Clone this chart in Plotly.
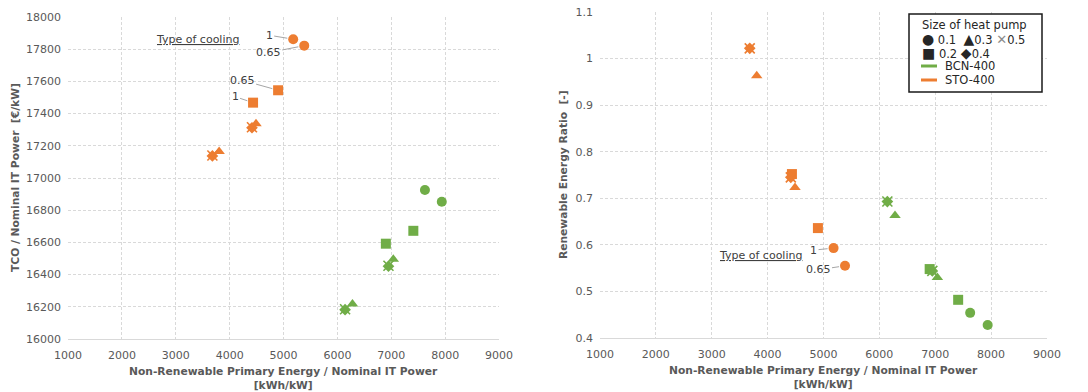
import plotly.graph_objects as go

W, H = 1088, 392
ORANGE = "#ED7D31"
GREEN = "#70AD47"
GRID = "#d9d9d9"
TXT = "#595959"
FONT = "DejaVu Sans"

sizes = ["0.1", "0.2", "0.3", "0.4", "0.5"]
symbols = ["circle", "square", "triangle-up", "diamond", "x-thin"]
cooling = ["1", "0.65"]

# STO-400 (per heat-pump size, cooling type [1, 0.65])
sto_nrpe = {"0.1": [5180, 5385], "0.2": [4435, 4900], "0.3": [3805, 4490],
            "0.4": [3680, 4415], "0.5": [3680, 4415]}
sto_tco = {"0.1": [17862, 17822], "0.2": [17468, 17545], "0.3": [17165, 17337],
           "0.4": [17137, 17312], "0.5": [17140, 17315]}
sto_rer = {"0.1": [0.593, 0.555], "0.2": [0.752, 0.636], "0.3": [0.963, 0.723],
           "0.4": [1.022, 0.745], "0.5": [1.022, 0.745]}
# BCN-400
bcn_nrpe = {"0.1": [7625, 7938], "0.2": [6900, 7410], "0.3": [6280, 7038],
            "0.4": [6143, 6948], "0.5": [6143, 6948]}
bcn_tco = {"0.1": [16925, 16852], "0.2": [16592, 16672], "0.3": [16218, 16495],
           "0.4": [16182, 16452], "0.5": [16185, 16455]}
bcn_rer = {"0.1": [0.454, 0.428], "0.2": [0.548, 0.482], "0.3": [0.663, 0.530],
           "0.4": [0.693, 0.544], "0.5": [0.693, 0.544]}

x_ticks = [1000, 2000, 3000, 4000, 5000, 6000, 7000, 8000, 9000]
x_ticktext = ["1000", "2000", "3000", "4000", "5000", "6000", "7000", "8000", "9000"]
tco_ticks = [16000, 16200, 16400, 16600, 16800, 17000, 17200, 17400, 17600, 17800, 18000]
tco_ticktext = ["16000", "16200", "16400", "16600", "16800", "17000", "17200", "17400",
                "17600", "17800", "18000"]
rer_ticks = [0.4, 0.5, 0.6, 0.7, 0.8, 0.9, 1, 1.1]
rer_ticktext = ["0.4", "0.5", "0.6", "0.7", "0.8", "0.9", "1", "1.1"]

fig = go.Figure()

msize = {"circle": 10, "square": 10, "triangle-up": 10, "diamond": 9, "x-thin": 10}
for city, color, nrpe, tco, rer in [("BCN-400", GREEN, bcn_nrpe, bcn_tco, bcn_rer),
                                     ("STO-400", ORANGE, sto_nrpe, sto_tco, sto_rer)]:
    for s, sym in zip(sizes, symbols):
        mk = dict(symbol=sym, size=msize[sym], color=color,
                  line=dict(width=1.6 if sym == "x-thin" else 0, color=color))
        fig.add_trace(go.Scatter(x=nrpe[s], y=tco[s], mode="markers", marker=mk,
                                 name=f"{city} {s}", showlegend=False,
                                 xaxis="x", yaxis="y"))
        fig.add_trace(go.Scatter(x=nrpe[s], y=rer[s], mode="markers", marker=mk,
                                 name=f"{city} {s}", showlegend=False,
                                 xaxis="x2", yaxis="y2"))

def px(x):
    return x / W

def py(y):
    return 1 - y / H

axis_common = dict(showgrid=True, gridcolor=GRID, griddash="3px,2px", gridwidth=1,
                   zeroline=False, ticks="", automargin=False,
                   tickfont=dict(family=FONT, size=11, color=TXT),
                   ticklabelstandoff=6, tickmode="array")

fig.update_layout(
    template="none",
    width=W, height=H, margin=dict(l=0, r=0, t=0, b=0, pad=0),
    paper_bgcolor="white", plot_bgcolor="white",
    font=dict(family=FONT, color=TXT),
    showlegend=False,
    xaxis=dict(domain=[px(68), px(499)], range=[1000, 9000], tickvals=x_ticks,
               ticktext=x_ticktext, anchor="y", showline=True, linecolor=GRID,
               **axis_common),
    yaxis=dict(domain=[py(339), py(17)], range=[16000, 18000], tickvals=tco_ticks,
               ticktext=tco_ticktext, anchor="x", showline=False, **axis_common),
    xaxis2=dict(domain=[px(600), px(1047)], range=[1000, 9000], tickvals=x_ticks,
                ticktext=x_ticktext, anchor="y2", showline=True, linecolor=GRID,
                **axis_common),
    yaxis2=dict(domain=[py(338), py(12)], range=[0.4, 1.1], tickvals=rer_ticks,
                ticktext=rer_ticktext, anchor="x2", showline=False, **axis_common),
)


def pann(text, x, y, font, xanchor="center", **kw):
    return dict(text=text, x=px(x), y=py(y), xref="paper", yref="paper",
                xanchor=xanchor, yanchor="middle", showarrow=False, font=font, **kw)


title_font = dict(family=FONT, size=10.7, color=TXT)
xtitle = "<b>Non-Renewable Primary Energy / Nominal IT Power<br>[kWh/kW]</b>"
cool_font = dict(family=FONT, size=11, color="#404040")
ann = [
    pann(xtitle, 283, 378, title_font, align="center"),
    pann(xtitle, 823, 377, title_font, align="center"),
    pann("<b>TCO / Nominal IT Power  [€/kW]</b>", 15, 178, title_font, textangle=-90),
    pann("<b>Renewable Energy Ratio  [-]</b>", 563, 175, title_font, textangle=-90),
    pann("<u>Type of cooling</u>", 197, 39, cool_font),
    pann("<u>Type of cooling</u>", 760, 256, cool_font),
]

lab_font = dict(family=FONT, size=11, color="#404040")


def leader(text, x, y, ax, ay, xr, yr):
    return dict(text=text, x=x, y=y, xref=xr, yref=yr, ax=ax, ay=ay, showarrow=True,
                arrowhead=0, arrowwidth=1, arrowcolor="#a6a6a6", standoff=6,
                font=lab_font)


ann += [
    leader(cooling[0], sto_nrpe["0.1"][0], sto_tco["0.1"][0], -24, -4, "x", "y"),
    leader(cooling[1], sto_nrpe["0.1"][1], sto_tco["0.1"][1], -36, 7, "x", "y"),
    leader(cooling[1], sto_nrpe["0.2"][1], sto_tco["0.2"][1], -36, -10, "x", "y"),
    leader(cooling[0], sto_nrpe["0.2"][0], sto_tco["0.2"][0], -18, -6, "x", "y"),
    leader(cooling[0], sto_nrpe["0.1"][0], sto_rer["0.1"][0], -20, 2, "x2", "y2"),
    leader(cooling[1], sto_nrpe["0.1"][1], sto_rer["0.1"][1], -27, 4, "x2", "y2"),
]

# custom legend box
leg_font = dict(family=FONT, size=11.5, color="#262626")
big = "<span style='font-size:14px'>{}</span>"
ann += [
    pann("Size of heat pump", 920, 25, leg_font, xanchor="left"),
    pann(f"{big.format('●')} {sizes[0]}  {big.format('▲')}{sizes[2]} "
         f"<span style='color:#8c8c8c;font-size:13px'>✕</span>{sizes[4]}",
         920, 39, leg_font, xanchor="left"),
    pann(f"{big.format('■')} {sizes[1]} {big.format('◆')}{sizes[3]}", 920, 53, leg_font,
         xanchor="left"),
    pann("BCN-400", 943, 66, leg_font, xanchor="left"),
    pann("STO-400", 943, 80, leg_font, xanchor="left"),
]
fig.update_layout(annotations=ann)

fig.add_shape(type="rect", xref="paper", yref="paper", x0=px(909), x1=px(1042),
              y0=py(92), y1=py(14), line=dict(color="#1a1a1a", width=1.5),
              fillcolor="white", layer="above")
for yy, col in [(66, GREEN), (80, ORANGE)]:
    fig.add_shape(type="line", xref="paper", yref="paper", x0=px(921), x1=px(937),
                  y0=py(yy), y1=py(yy), line=dict(color=col, width=3), layer="above")

fig.write_html("out.html")
